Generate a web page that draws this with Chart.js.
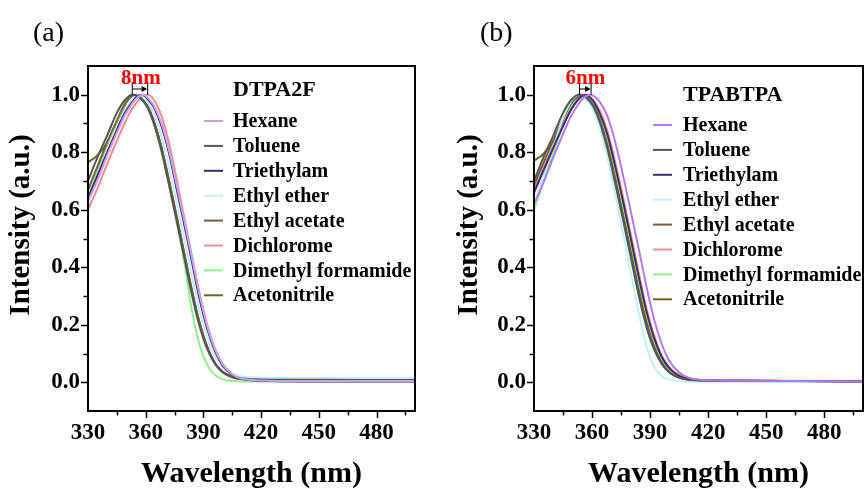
<!DOCTYPE html>
<html><head><meta charset="utf-8">
<script src="https://cdn.jsdelivr.net/npm/chart.js@4.4.0/dist/chart.umd.min.js"></script>
<style>
html,body{margin:0;padding:0;background:#fff;width:865px;height:489px;overflow:hidden}
canvas{position:absolute;top:0}
#ca{left:0}
#cb{left:446px}
.pl{position:absolute;font-family:"Liberation Serif",serif;font-size:28px;color:#000;line-height:1}
</style></head><body>
<canvas id="ca" width="432" height="489"></canvas>
<canvas id="cb" width="419" height="489"></canvas>
<div class="pl" style="left:33px;top:18px">(a)</div>
<div class="pl" style="left:480px;top:18px">(b)</div>
<script>
// ---------- data ----------
const wavelengths = [330,335,340,345,349,353,355,357,359,361,364,368,372,376,380,384,388,392,396,400,405,410,420,440,470,500];
const solvents = ["Hexane","Toluene","Triethylam","Ethyl ether","Ethyl acetate","Dichlorome","Dimethyl formamide","Acetonitrile"];
const xTicks = [330,360,390,420,450,480];
const yTicks = [0.0,0.2,0.4,0.6,0.8,1.0];

// Panel (a) DTPA2F
const aHexane      = [.63,.704,.789,.867,.926,.969,.985,.996,1.0,.99,.965,.905,.81,.69,.565,.435,.305,.195,.115,.062,.028,.013,.006,.004,.004,.004];
const aToluene     = [.70,.784,.859,.937,.98,1.0,.998,.99,.975,.955,.905,.81,.69,.565,.435,.305,.195,.115,.064,.036,.02,.013,.01,.009,.008,.008];
const aTriethylam  = [.64,.72,.80,.878,.935,.975,.991,.998,.998,.985,.96,.895,.80,.675,.55,.42,.29,.185,.108,.058,.026,.012,.005,.003,.003,.003];
const aEthylEther  = [.62,.707,.795,.878,.939,.983,.996,1.0,.99,.975,.94,.86,.75,.63,.50,.37,.25,.155,.09,.052,.03,.02,.016,.015,.014,.014];
const aEthylAcet   = [.67,.752,.835,.911,.967,.996,1.0,.99,.978,.96,.913,.823,.705,.58,.45,.32,.207,.123,.067,.036,.018,.011,.007,.006,.006,.006];
const aDichlorome  = [.60,.675,.76,.84,.90,.952,.97,.986,.996,1.0,.985,.93,.835,.71,.575,.44,.31,.20,.118,.064,.029,.014,.007,.005,.005,.005];
const aDMF         = [.65,.737,.825,.905,.965,.996,1.0,.99,.975,.955,.905,.81,.69,.56,.42,.25,.13,.06,.025,.01,.004,.003,.003,.003,.003,.003];
const aAcetonitr   = [.765,.79,.835,.905,.96,1.0,.998,.99,.977,.96,.913,.823,.705,.58,.45,.32,.207,.123,.067,.035,.017,.01,.007,.007,.007,.007];

// Panel (b) TPABTPA
const bHexane      = [.62,.696,.783,.863,.924,.968,.985,.996,1.0,.995,.975,.925,.835,.72,.595,.468,.337,.22,.133,.073,.034,.016,.007,.005,.004,.003];
const bToluene     = [.70,.784,.859,.937,.98,1.0,.998,.99,.975,.955,.905,.81,.69,.565,.435,.305,.195,.115,.064,.034,.016,.009,.006,.005,.004,.003];
const bTriethylam  = [.66,.738,.816,.891,.946,.985,.996,1.0,.99,.975,.935,.86,.75,.63,.50,.37,.25,.155,.088,.048,.022,.011,.006,.005,.004,.003];
const bEthylEther  = [.61,.719,.817,.918,.975,1.0,.996,.985,.965,.94,.885,.78,.65,.52,.38,.245,.125,.055,.022,.009,.004,.002,.002,.002,.002,.001];
const bEthylAcet   = [.685,.764,.842,.915,.968,.996,1.0,.99,.978,.96,.913,.823,.705,.58,.45,.32,.207,.123,.067,.034,.015,.008,.005,.004,.003,.002];
const bDichlorome  = [.67,.746,.822,.894,.947,.985,.996,1.0,.992,.978,.945,.873,.765,.645,.515,.385,.26,.165,.093,.052,.025,.013,.007,.006,.005,.004];
const bDMF         = [.60,.70,.80,.892,.96,.995,1.0,.995,.985,.968,.925,.845,.735,.61,.485,.355,.24,.145,.082,.044,.02,.01,.005,.004,.003,.002];
const bAcetonitr   = [.77,.795,.84,.905,.96,.995,1.0,.993,.98,.963,.918,.832,.72,.595,.468,.337,.222,.135,.073,.038,.018,.009,.006,.005,.004,.003];

const seriesA = [aHexane,aToluene,aTriethylam,aEthylEther,aEthylAcet,aDichlorome,aDMF,aAcetonitr];
const seriesB = [bHexane,bToluene,bTriethylam,bEthylEther,bEthylAcet,bDichlorome,bDMF,bAcetonitr];
const shiftA = [353, 361];     // peak range, 8 nm
const shiftB = [353.5, 359.5]; // peak range, 6 nm

// ---------- styles ----------
const colorsA = ["#c9a0f3","#555555","#3e2c6c","#bff2f2","#76603e","#f08c8c","#8ef08e","#6e6826"];
const colorsB = ["#b378f0","#555555","#3e2c6c","#bff2f2","#76603e","#f08c8c","#8ef08e","#6e6826"];
const FONT = '"Liberation Serif", serif';

const framePlugin = {
  id: 'frame',
  afterDraw(chart, args, o) {
    const {ctx, chartArea: {left, top, right, bottom}, scales: {x, y}} = chart;
    ctx.save();
    ctx.strokeStyle = '#000';
    ctx.lineWidth = 2;
    ctx.strokeRect(left, top, right - left, bottom - top);
    ctx.lineWidth = 1.5;
    ctx.beginPath();
    x.ticks.forEach(t => {
      if (t.value <= x.min || t.value >= x.max) return;
      const px = Math.round(x.getPixelForValue(t.value)) + 0.5;
      const len = ((t.value - 330) % 30 === 0) ? 6 : 3.5;
      ctx.moveTo(px, bottom + 1); ctx.lineTo(px, bottom + 1 + len);
    });
    y.ticks.forEach(t => {
      if (t.value <= y.min + 1e-6 || t.value >= y.max - 1e-6) return;
      const py = Math.round(y.getPixelForValue(t.value)) + 0.5;
      const len = (Math.round(t.value * 10) % 2 === 0) ? 6 : 3.5;
      ctx.moveTo(left - 1, py); ctx.lineTo(left - 1 - len, py);
    });
    ctx.stroke();
    // y axis title
    ctx.fillStyle = '#000';
    ctx.font = 'bold 29px ' + FONT;
    ctx.textAlign = 'center';
    ctx.textBaseline = 'middle';
    ctx.translate(o.yTitleX, o.yTitleY);
    ctx.rotate(-Math.PI / 2);
    ctx.fillText('Intensity (a.u.)', 0, 0);
    ctx.restore();
  }
};

const legendPlugin = {
  id: 'sketchLegend',
  afterDraw(chart, args, o) {
    const ctx = chart.ctx;
    ctx.save();
    ctx.fillStyle = '#000';
    ctx.textBaseline = 'middle';
    ctx.textAlign = 'left';
    ctx.font = 'bold 22px ' + FONT;
    ctx.fillText(o.title, o.textX, o.titleY);
    ctx.font = 'bold 20px ' + FONT;
    chart.data.datasets.forEach((ds, i) => {
      const yy = o.firstY + i * o.gap;
      ctx.strokeStyle = ds.borderColor;
      ctx.lineWidth = 2;
      ctx.beginPath();
      ctx.moveTo(o.swX0, yy); ctx.lineTo(o.swX1, yy);
      ctx.stroke();
      ctx.fillText(ds.label, o.textX, yy + 1);
    });
    ctx.restore();
  }
};

const shiftPlugin = {
  id: 'shiftMark',
  afterDraw(chart, args, o) {
    const {ctx, scales: {x, y}} = chart;
    const x1 = x.getPixelForValue(o.range[0]);
    const x2 = x.getPixelForValue(o.range[1]);
    const yb = y.getPixelForValue(1.0);
    const yt = y.getPixelForValue(1.045);
    const ya = y.getPixelForValue(1.02);
    ctx.save();
    ctx.strokeStyle = '#000';
    ctx.fillStyle = '#000';
    ctx.lineWidth = 1;
    ctx.beginPath();
    ctx.moveTo(x1, yb); ctx.lineTo(x1, yt);
    ctx.moveTo(x2, yb); ctx.lineTo(x2, yt);
    ctx.moveTo(x1, ya); ctx.lineTo(x2 - 4, ya);
    ctx.stroke();
    ctx.beginPath();
    ctx.moveTo(x2 - 0.5, ya); ctx.lineTo(x2 - 6, ya - 3); ctx.lineTo(x2 - 6, ya + 3); ctx.closePath();
    ctx.fill();
    ctx.fillStyle = '#ff0000';
    ctx.font = 'bold 21px ' + FONT;
    ctx.textAlign = 'center';
    ctx.textBaseline = 'middle';
    ctx.fillText(o.text, (x1 + x2) / 2 + o.dx, y.getPixelForValue(1.055));
    ctx.restore();
  }
};

function makeChart(id, series, colors, title, legendPos, shift, shiftText, shiftDx, rightPad, yTitleX) {
  const datasets = series.map((vals, i) => ({
    label: solvents[i],
    data: wavelengths.map((w, k) => ({x: w, y: vals[k]})),
    borderColor: colors[i],
    borderWidth: 2,
    pointRadius: 0,
    cubicInterpolationMode: 'monotone',
    fill: false
  }));
  return new Chart(document.getElementById(id), {
    type: 'line',
    data: {datasets},
    plugins: [framePlugin, legendPlugin, shiftPlugin],
    options: {
      responsive: false,
      animation: false,
      layout: {padding: {left: 0, right: rightPad, top: 66, bottom: 0}},
      plugins: {
        legend: {display: false},
        tooltip: {enabled: false},
        frame: {yTitleX: yTitleX, yTitleY: 225},
        sketchLegend: Object.assign({title}, legendPos),
        shiftMark: {range: shift, text: shiftText, dx: shiftDx}
      },
      scales: {
        x: {
          type: 'linear', min: 330, max: 500,
          grid: {display: false, drawTicks: false},
          border: {display: false},
          ticks: {
            stepSize: 15, autoSkip: false, maxRotation: 0, includeBounds: false, padding: 8,
            color: '#000', font: {family: FONT, size: 23, weight: 'bold'},
            callback: v => xTicks.includes(v) ? String(v) : ''
          },
          title: {display: true, text: 'Wavelength (nm)', color: '#000',
                  font: {family: FONT, size: 30, weight: 'bold', lineHeight: 1.0},
                  padding: {top: 0, bottom: 0}},
          afterFit: s => { s.height = 78; }
        },
        y: {
          min: -0.1, max: 1.1,
          grid: {display: false, drawTicks: false},
          border: {display: false},
          ticks: {
            stepSize: 0.1, autoSkip: false, includeBounds: false, padding: 8,
            color: '#000', font: {family: FONT, size: 23, weight: 'bold'},
            callback: v => {
              const r = Math.round(v * 10) / 10;
              return yTicks.some(t => Math.abs(t - r) < 1e-6) ? r.toFixed(1) : '';
            }
          },
          title: {display: false},
          afterFit: s => { s.width = 88; }
        }
      }
    }
  });
}

makeChart('ca', seriesA, colorsA, 'DTPA2F',
  {textX: 233, titleY: 90, firstY: 121, gap: 24.9, swX0: 204, swX1: 223},
  shiftA, '8nm', 1, 17, 22);
makeChart('cb', seriesB, colorsB, 'TPABTPA',
  {textX: 237, titleY: 95, firstY: 125, gap: 24.9, swX0: 207, swX1: 226},
  shiftB, '6nm', 0, 2, 24);
</script>
</body></html>
